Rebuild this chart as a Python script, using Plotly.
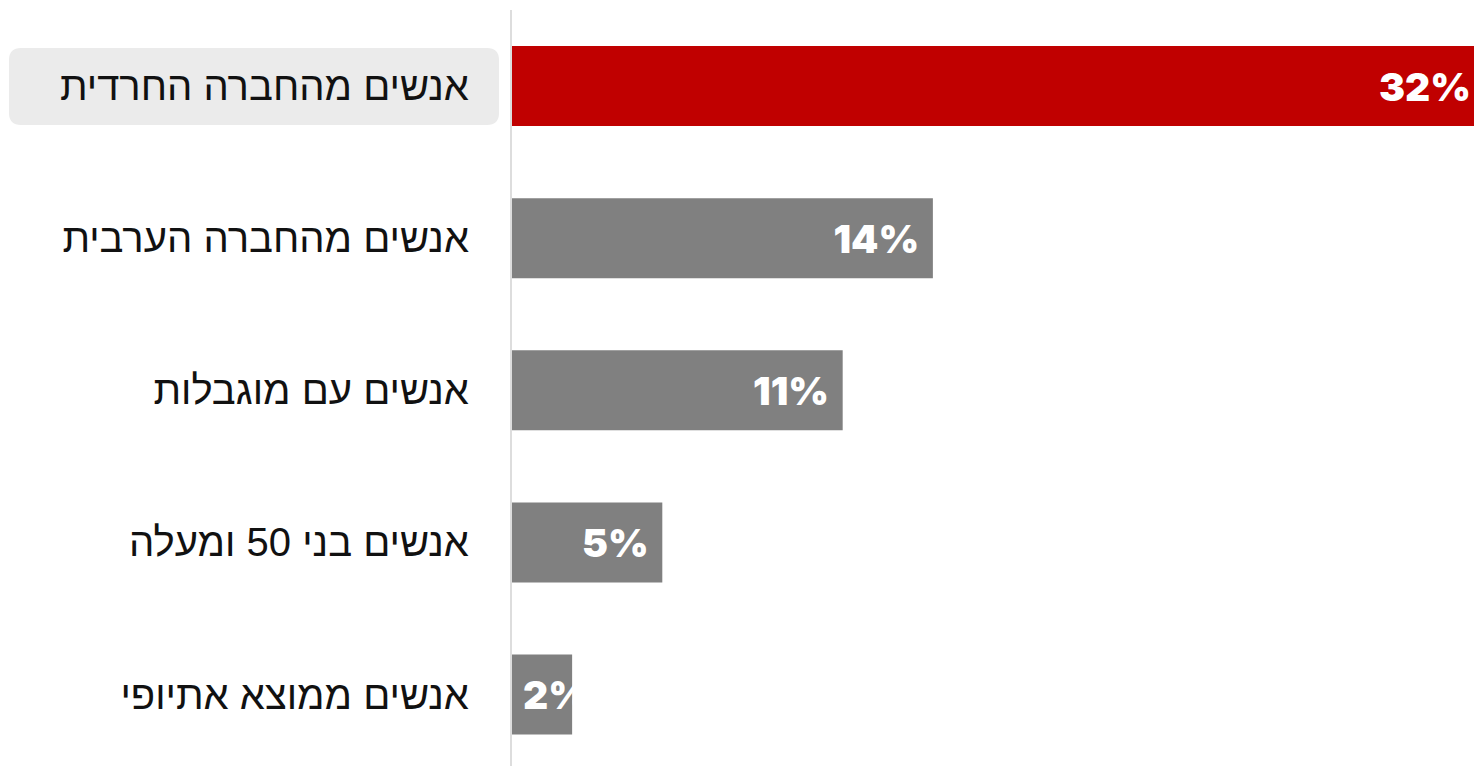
import plotly.graph_objects as go

categories = [
    "אנשים מהחברה החרדית",
    "אנשים מהחברה הערבית",
    "אנשים עם מוגבלות",
    "אנשים בני 50 ומעלה",
    "אנשים ממוצא אתיופי",
]
values = [32, 14, 11, 5, 2]
value_labels = ["32%", "14%", "11%", "5%", "2%"]
bar_colors = ["#c00000", "#808080", "#808080", "#808080", "#808080"]

W, H = 1474, 766
ML, MR, MT, MB = 512, 0, 10, 0
PW, PH = W - ML - MR, H - MT - MB


def px_to_paper(px, py):
    return (px - ML) / PW, (H - MB - py) / PH


def rounded_rect_path(x0, y0, x1, y1, r):
    def P(x, y):
        a, b = px_to_paper(x, y)
        return f"{a:.5f},{b:.5f}"
    d = f"M {P(x0 + r, y0)} L {P(x1 - r, y0)} Q {P(x1, y0)} {P(x1, y0 + r)} "
    d += f"L {P(x1, y1 - r)} Q {P(x1, y1)} {P(x1 - r, y1)} "
    d += f"L {P(x0 + r, y1)} Q {P(x0, y1)} {P(x0, y1 - r)} "
    d += f"L {P(x0, y0 + r)} Q {P(x0, y0)} {P(x0 + r, y0)} Z"
    return d


END_PAD = "\u2009\u2009\u200b"
START_PAD = "\u2009\u200a\u200b"

fig = go.Figure()
for i in range(len(categories)):
    wide = values[i] >= 4
    label = value_labels[i] + END_PAD if wide else START_PAD + value_labels[i]
    if i == 0:
        label = value_labels[i]
    fig.add_trace(
        go.Bar(
            x=[values[i]],
            y=[categories[i]],
            orientation="h",
            marker=dict(color=bar_colors[i], line=dict(width=0)),
            width=0.526,
            text=[label],
            textposition="inside",
            insidetextanchor="end" if wide else "start",
            textangle=0,
            textfont=dict(family="Inter", size=39, color="white", weight=900),
            cliponaxis=True,
            hoverinfo="skip",
        )
    )

fig.add_shape(
    type="path",
    xref="paper",
    yref="paper",
    path=rounded_rect_path(9, 48, 499, 125, 12),
    fillcolor="#ebebeb",
    line=dict(width=0),
    layer="below",
)

fig.update_layout(
    width=W,
    height=H,
    margin=dict(l=ML, r=MR, t=MT, b=MB, pad=0),
    paper_bgcolor="white",
    plot_bgcolor="white",
    showlegend=False,
    barmode="overlay",
    uniformtext=dict(minsize=39, mode="show"),
    xaxis=dict(
        range=[0, 32],
        showgrid=False,
        zeroline=False,
        showticklabels=False,
        showline=False,
        fixedrange=True,
    ),
    yaxis=dict(
        type="category",
        categoryorder="array",
        categoryarray=categories,
        range=[4.47, -0.5],
        showgrid=False,
        zeroline=False,
        showline=True,
        linecolor="#dddddd",
        linewidth=2,
        ticks="",
        ticklabelstandoff=33,
        tickfont=dict(family="Liberation Sans", size=40, color="#111111"),
        fixedrange=True,
    ),
)

fig.write_html(
    "out.html",
    config={"displayModeBar": False},
    post_script="document.body.style.margin='0';",
)
